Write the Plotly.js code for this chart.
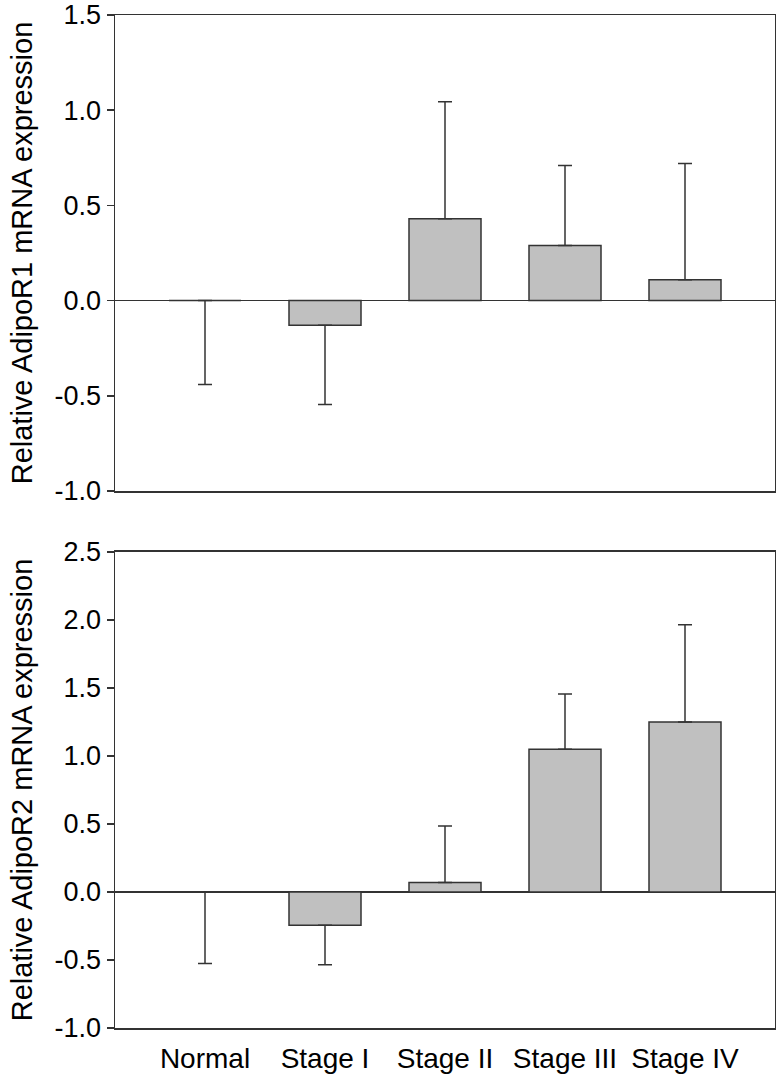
<!DOCTYPE html>
<html>
<head>
<meta charset="utf-8">
<script src="https://cdn.plot.ly/plotly-3.0.1.min.js"></script>
<style>
  html, body { margin: 0; padding: 0; background: #ffffff; }
  #chart { width: 776px; height: 1076px; }
</style>
</head>
<body>
<div id="chart"></div>
<script>
// ---- Data ----
const categories = ['Normal', 'Stage I', 'Stage II', 'Stage III', 'Stage IV'];

// Upper panel: AdipoR1
const r1Mean     = [0.00, -0.13, 0.43, 0.29, 0.11];
const r1ErrPlus  = [0.00, 0.00, 0.615, 0.42, 0.61];
const r1ErrMinus = [0.44, 0.415, 0.00, 0.00, 0.00];

// Lower panel: AdipoR2
const r2Mean     = [0.00, -0.245, 0.07, 1.05, 1.25];
const r2ErrPlus  = [0.00, 0.00, 0.415, 0.405, 0.715];
const r2ErrMinus = [0.525, 0.29, 0.00, 0.00, 0.00];

// Tick labels
const r1TickVals = [-1.0, -0.5, 0.0, 0.5, 1.0, 1.5];
const r1TickText = ['-1.0', '-0.5', '0.0', '0.5', '1.0', '1.5'];
const r2TickVals = [-1.0, -0.5, 0.0, 0.5, 1.0, 1.5, 2.0, 2.5];
const r2TickText = ['-1.0', '-0.5', '0.0', '0.5', '1.0', '1.5', '2.0', '2.5'];

const r1Title = 'Relative AdipoR1 mRNA expression';
const r2Title = 'Relative AdipoR2 mRNA expression';

// ---- Styling ----
const FONT = '"Liberation Sans", Arial, Helvetica, sans-serif';
const LINE = '#333333';
const BARFILL = '#c0c0c0';

function barTrace(y, plus, minus, xa, ya) {
  return {
    type: 'bar',
    x: categories,
    y: y,
    xaxis: xa,
    yaxis: ya,
    marker: { color: BARFILL, line: { color: LINE, width: 1.5 } },
    error_y: {
      type: 'data',
      symmetric: false,
      array: plus,
      arrayminus: minus,
      color: LINE,
      thickness: 1.5,
      width: 7
    },
    hoverinfo: 'skip',
    showlegend: false
  };
}

const data = [
  barTrace(r1Mean, r1ErrPlus, r1ErrMinus, 'x2', 'y2'),
  barTrace(r2Mean, r2ErrPlus, r2ErrMinus, 'x', 'y')
];

function yAxis(domain, range, vals, text, title) {
  return {
    domain: domain,
    range: range,
    tickmode: 'array',
    tickvals: vals,
    ticktext: text,
    ticks: 'outside',
    ticklen: 7,
    tickwidth: 1.5,
    tickcolor: LINE,
    showline: true,
    mirror: true,
    linecolor: LINE,
    linewidth: 1.5,
    showgrid: false,
    zeroline: true,
    zerolinecolor: LINE,
    zerolinewidth: 1.5,
    tickfont: { family: FONT, size: 27, color: '#000' },
    title: { text: title, font: { family: FONT, size: 29, color: '#000' }, standoff: 13 },
    automargin: false,
    fixedrange: true
  };
}

function xAxis(anchor, showLabels) {
  return {
    anchor: anchor,
    type: 'category',
    range: [-0.75, 4.75],
    showline: true,
    mirror: true,
    linecolor: LINE,
    linewidth: 1.5,
    showgrid: false,
    zeroline: false,
    showticklabels: showLabels,
    ticks: showLabels ? 'outside' : '',
    ticklen: 5,
    tickcolor: 'rgba(0,0,0,0)',
    tickfont: { family: FONT, size: 28, color: '#000' },
    automargin: false,
    fixedrange: true
  };
}

const layout = {
  width: 776,
  height: 1076,
  margin: { l: 115, r: 1, t: 15, b: 48 },
  paper_bgcolor: '#ffffff',
  plot_bgcolor: '#ffffff',
  bargap: 0.4,
  showlegend: false,
  font: { family: FONT, color: '#000' },
  xaxis: xAxis('y', true),
  yaxis: yAxis([0, 0.4699], [-1.0, 2.5], r2TickVals, r2TickText, r2Title),
  xaxis2: xAxis('y2', false),
  yaxis2: yAxis([0.5301, 1], [-1.0, 1.5], r1TickVals, r1TickText, r1Title)
};

Plotly.newPlot('chart', data, layout, { staticPlot: true, displayModeBar: false });
</script>
</body>
</html>
